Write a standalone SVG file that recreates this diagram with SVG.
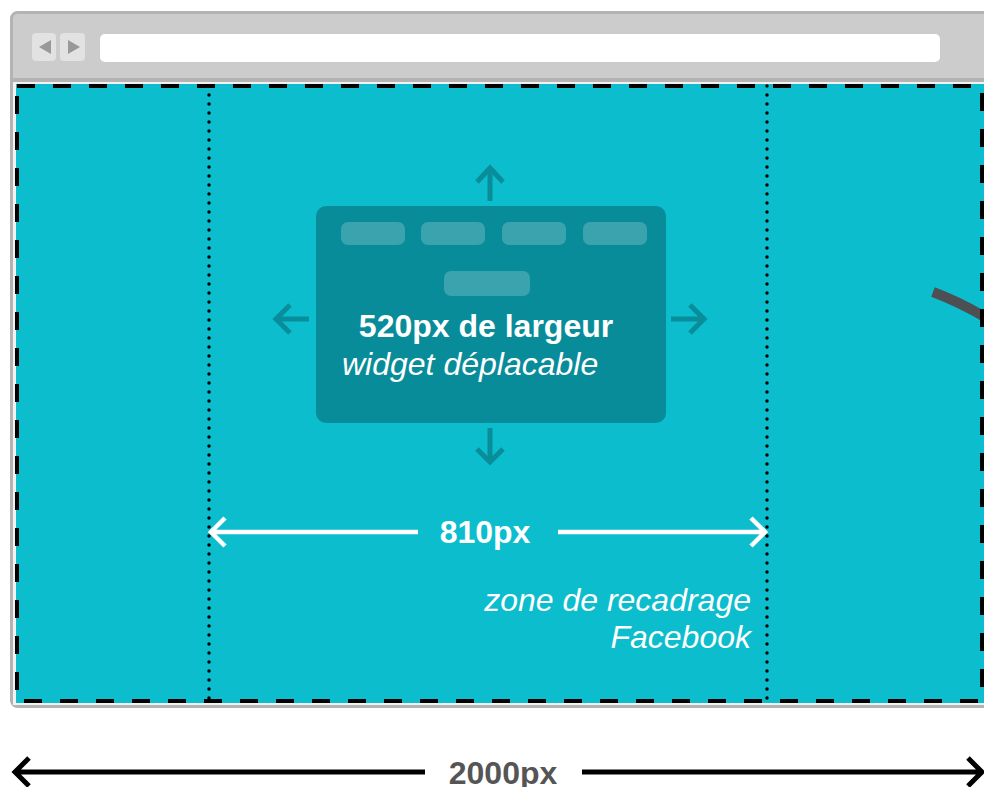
<svg xmlns="http://www.w3.org/2000/svg" width="984" height="787" viewBox="0 0 984 787">
<style>
.t{font-family:"Liberation Sans",Arial,sans-serif;fill:#fff}
.b{font-weight:bold}
.i{font-style:italic}
.tab{fill:#3aa3ad}
.mv{fill:none;stroke:#0a8d9b;stroke-width:5}
.dot{stroke:#000;stroke-width:3.5;stroke-dasharray:0 9;stroke-linecap:round;fill:none}
.wa{fill:none;stroke:#fff;stroke-width:4.5}
.ba{fill:none;stroke:#000;stroke-width:5}
</style>
<rect width="984" height="787" fill="#fff"/>
<g id="browser">
<rect x="11.5" y="12.5" width="1000" height="694" rx="6" fill="#ccc" stroke="#b3b3b3" stroke-width="3"/>
<rect x="13" y="78" width="980" height="4" fill="#b3b3b3"/>
<rect x="13" y="82" width="980" height="623" fill="#f2f2f2"/>
<rect x="32" y="33" width="24" height="28" rx="4" fill="#e2e2e2"/>
<rect x="60" y="33" width="25" height="28" rx="4" fill="#e2e2e2"/>
<polygon points="39,47 51,40 51,54" fill="#999"/>
<polygon points="80,47 68,40 68,54" fill="#999"/>
<rect x="100" y="34" width="840" height="28" rx="5" fill="#fff"/>
</g>
<g id="canvas">
<rect x="16" y="84" width="975" height="619" fill="#0bbdcd"/>
<path d="M933,292 Q962,303 990,320" fill="none" stroke="#4d4f53" stroke-width="10"/>
<rect x="17" y="86" width="965" height="615" fill="none" stroke="#000" stroke-width="4" stroke-dasharray="18 18"/>
</g>
<g id="crop-zone">
<line class="dot" x1="209" y1="86" x2="209" y2="701"/>
<line class="dot" x1="767" y1="86" x2="767" y2="701"/>
<text class="t i" x="751" y="611" font-size="32" text-anchor="end">zone de recadrage</text>
<text class="t i" x="751" y="648" font-size="32" text-anchor="end">Facebook</text>
</g>
<g id="widget">
<rect x="316" y="206" width="350" height="217" rx="10" fill="#098c9a"/>
<rect class="tab" x="341" y="222" width="64" height="23" rx="7"/>
<rect class="tab" x="421" y="222" width="64" height="23" rx="7"/>
<rect class="tab" x="502" y="222" width="64" height="23" rx="7"/>
<rect class="tab" x="583" y="222" width="64" height="23" rx="7"/>
<rect class="tab" x="444" y="271" width="86" height="25" rx="7"/>
<text class="t b" x="486" y="337" font-size="32" text-anchor="middle">520px de largeur</text>
<text class="t i" x="342" y="375" font-size="32">widget déplacable</text>
</g>
<g id="connectors">
<path class="mv" d="M490,201V168M477,182L490,168L503,182"/>
<path class="mv" d="M490,428V462M477,449L490,462L503,449"/>
<path class="mv" d="M309,319H276M290,305L276,319L290,333"/>
<path class="mv" d="M671,319H704M690,305L704,319L690,333"/>
<path class="wa" d="M211,532H418M225,518L211,532L225,546"/>
<path class="wa" d="M558,532H765M751,518L765,532L751,546"/>
<path class="ba" d="M15,772H425M29,758L15,772L29,786"/>
<path class="ba" d="M582,772H982M968,758L982,772L968,786"/>
</g>
<text class="t b" x="485" y="543" font-size="32" text-anchor="middle">810px</text>
<text class="t b" x="503" y="784" font-size="32" text-anchor="middle" style="fill:#555">2000px</text>
</svg>
